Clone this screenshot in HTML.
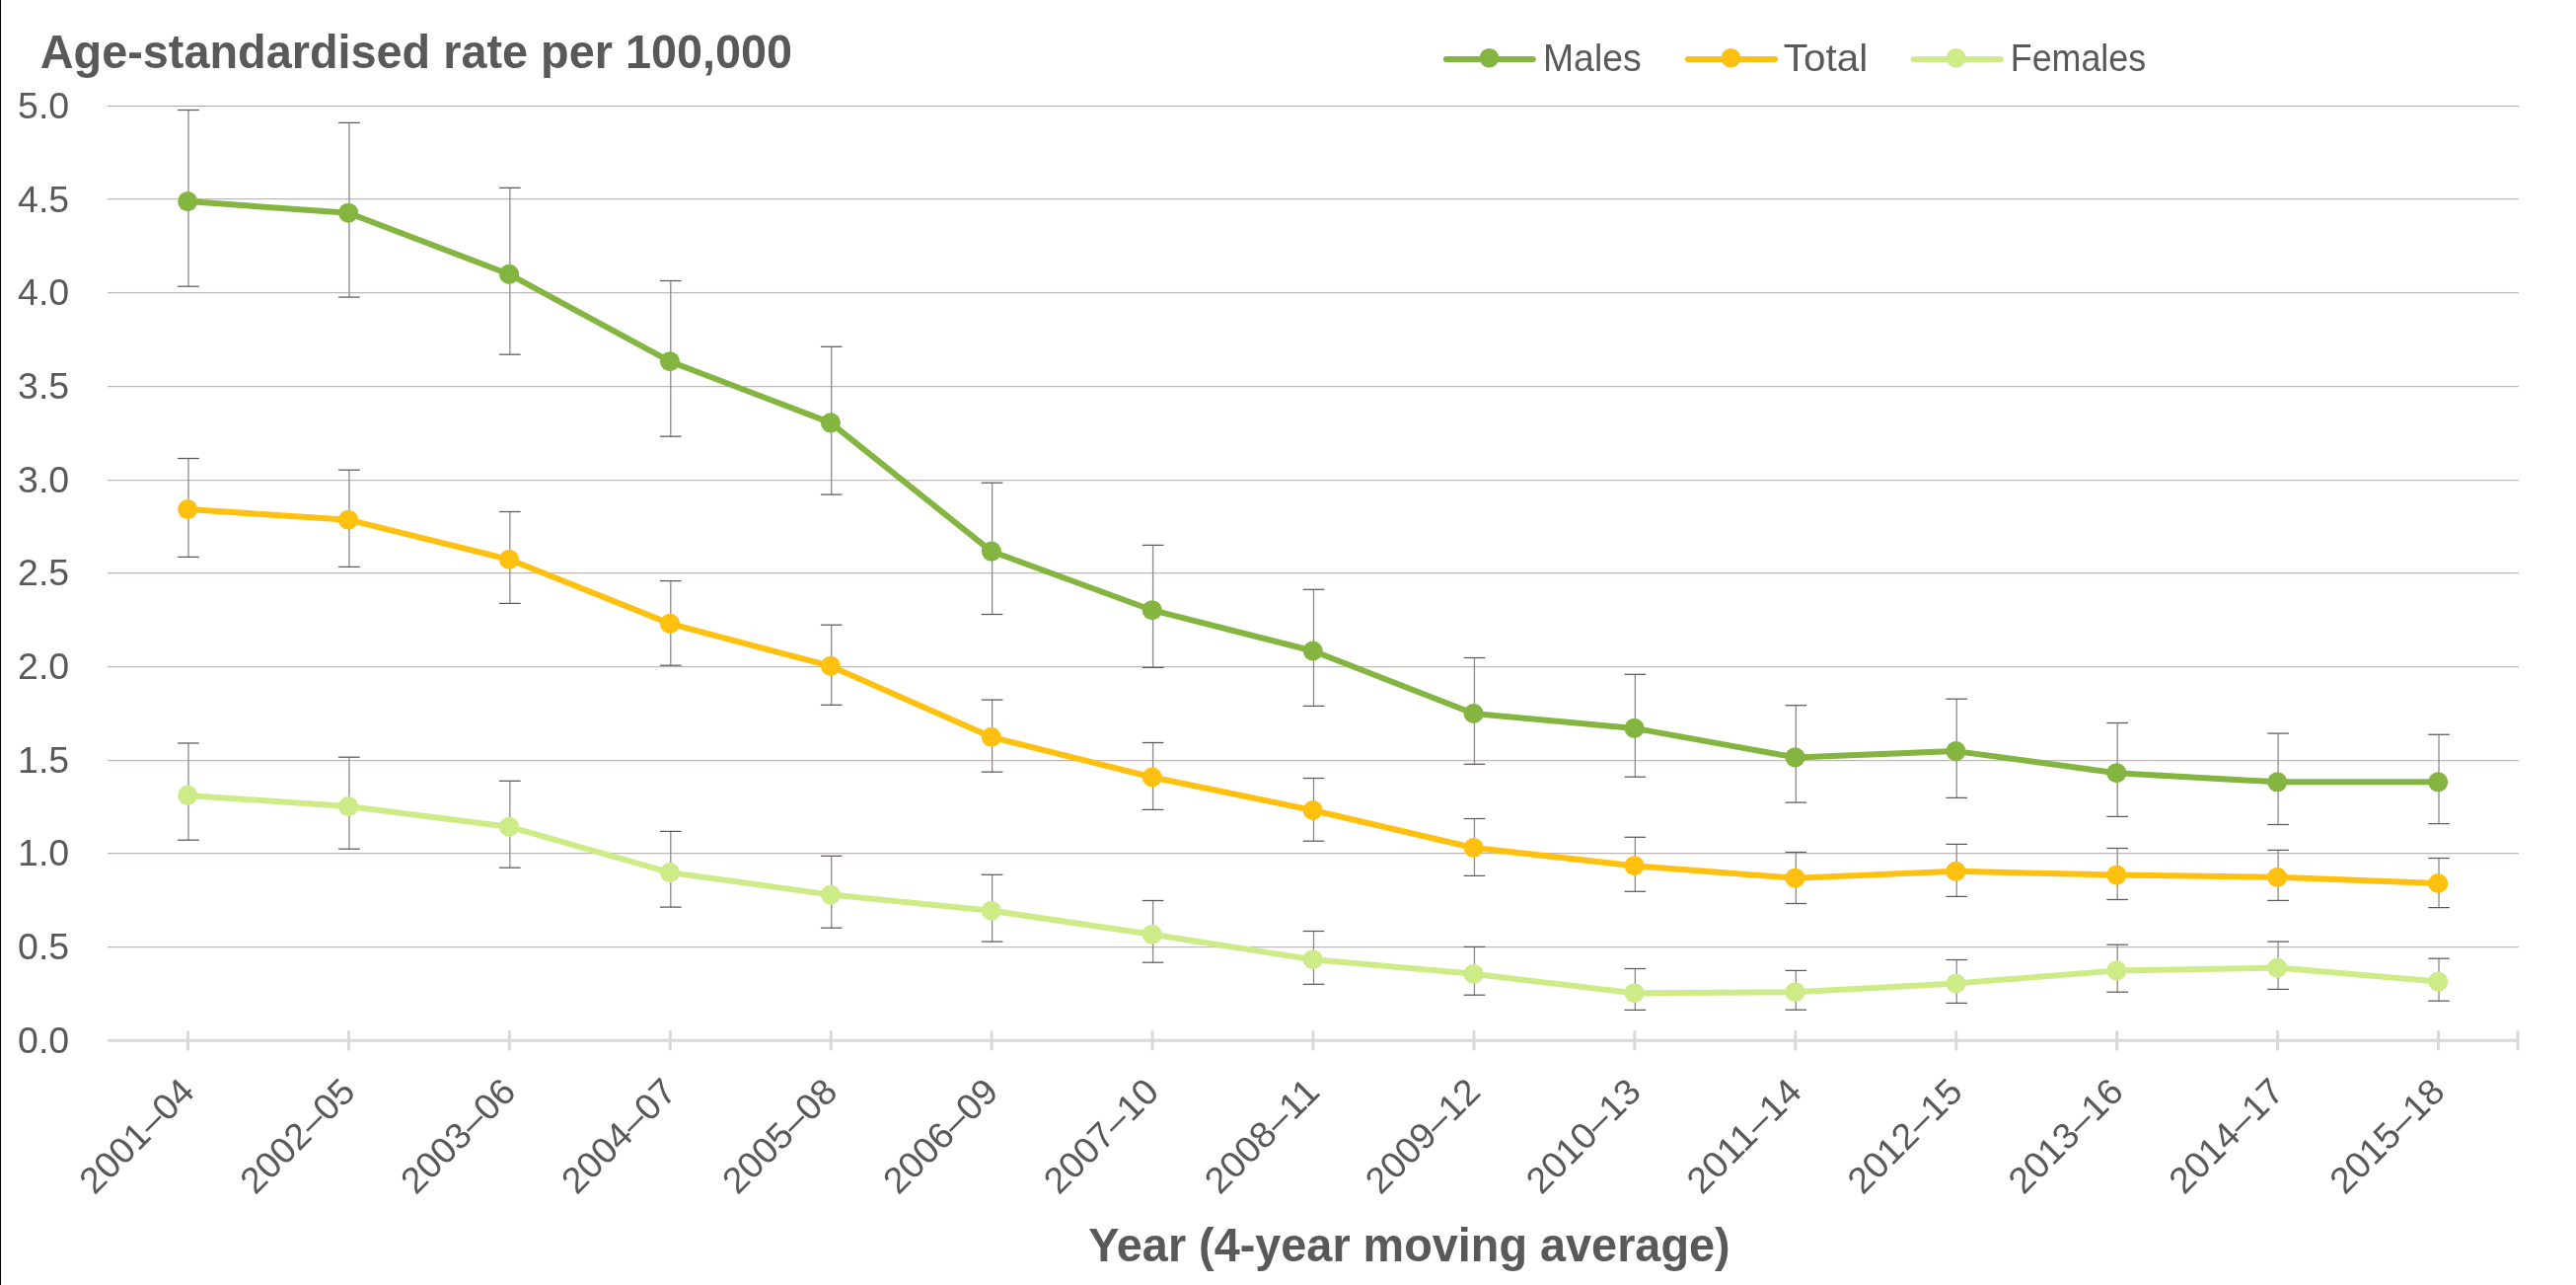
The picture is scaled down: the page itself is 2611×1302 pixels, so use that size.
<!DOCTYPE html><html><head><meta charset="utf-8"><style>
html,body{margin:0;padding:0;background:#fff;}body{width:2611px;height:1302px;overflow:hidden;}
svg{display:block;font-family:"Liberation Sans",sans-serif;will-change:transform;}
</style></head><body>
<svg width="2611" height="1302" viewBox="0 0 2611 1302">
<rect x="0" y="0" width="2611" height="1302" fill="#fff"/>
<rect x="0" y="0" width="1" height="1302" fill="#000"/>
<rect x="109" y="107" width="2444" height="1" fill="#b0a8a8"/>
<rect x="109" y="201" width="2444" height="1" fill="#bfb7b7"/>
<rect x="109" y="202" width="2444" height="1" fill="#f2efef"/>
<rect x="109" y="296" width="2444" height="1" fill="#bfb7b7"/>
<rect x="109" y="297" width="2444" height="1" fill="#f2efef"/>
<rect x="109" y="391" width="2444" height="1" fill="#bfb7b7"/>
<rect x="109" y="392" width="2444" height="1" fill="#f2efef"/>
<rect x="109" y="486" width="2444" height="1" fill="#bfb7b7"/>
<rect x="109" y="487" width="2444" height="1" fill="#f2efef"/>
<rect x="109" y="580" width="2444" height="1" fill="#bfb7b7"/>
<rect x="109" y="581" width="2444" height="1" fill="#f2efef"/>
<rect x="109" y="675" width="2444" height="1" fill="#bfb7b7"/>
<rect x="109" y="676" width="2444" height="1" fill="#f2efef"/>
<rect x="109" y="770" width="2444" height="1" fill="#bfb7b7"/>
<rect x="109" y="771" width="2444" height="1" fill="#f2efef"/>
<rect x="109" y="864" width="2444" height="1" fill="#bfb7b7"/>
<rect x="109" y="865" width="2444" height="1" fill="#f2efef"/>
<rect x="109" y="959" width="2444" height="1" fill="#bfb7b7"/>
<rect x="109" y="960" width="2444" height="1" fill="#f2efef"/>
<line x1="109" y1="1054.2" x2="2553" y2="1054.2" stroke="#d9d9d9" stroke-width="3"/>
<line x1="190.50" y1="1044.4" x2="190.50" y2="1064.4" stroke="#d9d9d9" stroke-width="3"/>
<line x1="353.43" y1="1044.4" x2="353.43" y2="1064.4" stroke="#d9d9d9" stroke-width="3"/>
<line x1="516.36" y1="1044.4" x2="516.36" y2="1064.4" stroke="#d9d9d9" stroke-width="3"/>
<line x1="679.29" y1="1044.4" x2="679.29" y2="1064.4" stroke="#d9d9d9" stroke-width="3"/>
<line x1="842.22" y1="1044.4" x2="842.22" y2="1064.4" stroke="#d9d9d9" stroke-width="3"/>
<line x1="1005.15" y1="1044.4" x2="1005.15" y2="1064.4" stroke="#d9d9d9" stroke-width="3"/>
<line x1="1168.08" y1="1044.4" x2="1168.08" y2="1064.4" stroke="#d9d9d9" stroke-width="3"/>
<line x1="1331.01" y1="1044.4" x2="1331.01" y2="1064.4" stroke="#d9d9d9" stroke-width="3"/>
<line x1="1493.94" y1="1044.4" x2="1493.94" y2="1064.4" stroke="#d9d9d9" stroke-width="3"/>
<line x1="1656.87" y1="1044.4" x2="1656.87" y2="1064.4" stroke="#d9d9d9" stroke-width="3"/>
<line x1="1819.80" y1="1044.4" x2="1819.80" y2="1064.4" stroke="#d9d9d9" stroke-width="3"/>
<line x1="1982.73" y1="1044.4" x2="1982.73" y2="1064.4" stroke="#d9d9d9" stroke-width="3"/>
<line x1="2145.66" y1="1044.4" x2="2145.66" y2="1064.4" stroke="#d9d9d9" stroke-width="3"/>
<line x1="2308.59" y1="1044.4" x2="2308.59" y2="1064.4" stroke="#d9d9d9" stroke-width="3"/>
<line x1="2471.52" y1="1044.4" x2="2471.52" y2="1064.4" stroke="#d9d9d9" stroke-width="3"/>
<line x1="2552" y1="1044.4" x2="2552" y2="1064.4" stroke="#d9d9d9" stroke-width="3"/>
<text x="70.20" y="119.90" font-size="37.5" fill="#595959" text-anchor="end">5.0</text>
<text x="70.20" y="214.58" font-size="37.5" fill="#595959" text-anchor="end">4.5</text>
<text x="70.20" y="309.26" font-size="37.5" fill="#595959" text-anchor="end">4.0</text>
<text x="70.20" y="403.94" font-size="37.5" fill="#595959" text-anchor="end">3.5</text>
<text x="70.20" y="498.62" font-size="37.5" fill="#595959" text-anchor="end">3.0</text>
<text x="70.20" y="593.30" font-size="37.5" fill="#595959" text-anchor="end">2.5</text>
<text x="70.20" y="687.98" font-size="37.5" fill="#595959" text-anchor="end">2.0</text>
<text x="70.20" y="782.66" font-size="37.5" fill="#595959" text-anchor="end">1.5</text>
<text x="70.20" y="877.34" font-size="37.5" fill="#595959" text-anchor="end">1.0</text>
<text x="70.20" y="972.02" font-size="37.5" fill="#595959" text-anchor="end">0.5</text>
<text x="70.20" y="1066.70" font-size="37.5" fill="#595959" text-anchor="end">0.0</text>
<text transform="translate(199.00,1108.20) rotate(-45)" font-size="37" fill="#595959" text-anchor="end" textLength="146" lengthAdjust="spacingAndGlyphs">2001–04</text>
<text transform="translate(361.93,1108.20) rotate(-45)" font-size="37" fill="#595959" text-anchor="end" textLength="146" lengthAdjust="spacingAndGlyphs">2002–05</text>
<text transform="translate(524.86,1108.20) rotate(-45)" font-size="37" fill="#595959" text-anchor="end" textLength="146" lengthAdjust="spacingAndGlyphs">2003–06</text>
<text transform="translate(687.79,1108.20) rotate(-45)" font-size="37" fill="#595959" text-anchor="end" textLength="146" lengthAdjust="spacingAndGlyphs">2004–07</text>
<text transform="translate(850.72,1108.20) rotate(-45)" font-size="37" fill="#595959" text-anchor="end" textLength="146" lengthAdjust="spacingAndGlyphs">2005–08</text>
<text transform="translate(1013.65,1108.20) rotate(-45)" font-size="37" fill="#595959" text-anchor="end" textLength="146" lengthAdjust="spacingAndGlyphs">2006–09</text>
<text transform="translate(1176.58,1108.20) rotate(-45)" font-size="37" fill="#595959" text-anchor="end" textLength="146" lengthAdjust="spacingAndGlyphs">2007–10</text>
<text transform="translate(1339.51,1108.20) rotate(-45)" font-size="37" fill="#595959" text-anchor="end" textLength="146" lengthAdjust="spacingAndGlyphs">2008–11</text>
<text transform="translate(1502.44,1108.20) rotate(-45)" font-size="37" fill="#595959" text-anchor="end" textLength="146" lengthAdjust="spacingAndGlyphs">2009–12</text>
<text transform="translate(1665.37,1108.20) rotate(-45)" font-size="37" fill="#595959" text-anchor="end" textLength="146" lengthAdjust="spacingAndGlyphs">2010–13</text>
<text transform="translate(1828.30,1108.20) rotate(-45)" font-size="37" fill="#595959" text-anchor="end" textLength="146" lengthAdjust="spacingAndGlyphs">2011–14</text>
<text transform="translate(1991.23,1108.20) rotate(-45)" font-size="37" fill="#595959" text-anchor="end" textLength="146" lengthAdjust="spacingAndGlyphs">2012–15</text>
<text transform="translate(2154.16,1108.20) rotate(-45)" font-size="37" fill="#595959" text-anchor="end" textLength="146" lengthAdjust="spacingAndGlyphs">2013–16</text>
<text transform="translate(2317.09,1108.20) rotate(-45)" font-size="37" fill="#595959" text-anchor="end" textLength="146" lengthAdjust="spacingAndGlyphs">2014–17</text>
<text transform="translate(2480.02,1108.20) rotate(-45)" font-size="37" fill="#595959" text-anchor="end" textLength="146" lengthAdjust="spacingAndGlyphs">2015–18</text>
<line x1="191.00" y1="111.50" x2="191.00" y2="290.20" stroke="#8a8a8a" stroke-width="1.3"/>
<line x1="180.20" y1="111.50" x2="201.80" y2="111.50" stroke="#595959" stroke-width="1.25"/>
<line x1="180.20" y1="290.20" x2="201.80" y2="290.20" stroke="#595959" stroke-width="1.25"/>
<line x1="353.93" y1="124.40" x2="353.93" y2="301.10" stroke="#8a8a8a" stroke-width="1.3"/>
<line x1="343.13" y1="124.40" x2="364.73" y2="124.40" stroke="#595959" stroke-width="1.25"/>
<line x1="343.13" y1="301.10" x2="364.73" y2="301.10" stroke="#595959" stroke-width="1.25"/>
<line x1="516.86" y1="190.30" x2="516.86" y2="359.20" stroke="#8a8a8a" stroke-width="1.3"/>
<line x1="506.06" y1="190.30" x2="527.66" y2="190.30" stroke="#595959" stroke-width="1.25"/>
<line x1="506.06" y1="359.20" x2="527.66" y2="359.20" stroke="#595959" stroke-width="1.25"/>
<line x1="679.79" y1="284.50" x2="679.79" y2="442.20" stroke="#8a8a8a" stroke-width="1.3"/>
<line x1="668.99" y1="284.50" x2="690.59" y2="284.50" stroke="#595959" stroke-width="1.25"/>
<line x1="668.99" y1="442.20" x2="690.59" y2="442.20" stroke="#595959" stroke-width="1.25"/>
<line x1="842.72" y1="351.30" x2="842.72" y2="501.10" stroke="#8a8a8a" stroke-width="1.3"/>
<line x1="831.92" y1="351.30" x2="853.52" y2="351.30" stroke="#595959" stroke-width="1.25"/>
<line x1="831.92" y1="501.10" x2="853.52" y2="501.10" stroke="#595959" stroke-width="1.25"/>
<line x1="1005.65" y1="489.20" x2="1005.65" y2="622.50" stroke="#8a8a8a" stroke-width="1.3"/>
<line x1="994.85" y1="489.20" x2="1016.45" y2="489.20" stroke="#595959" stroke-width="1.25"/>
<line x1="994.85" y1="622.50" x2="1016.45" y2="622.50" stroke="#595959" stroke-width="1.25"/>
<line x1="1168.58" y1="552.40" x2="1168.58" y2="676.40" stroke="#8a8a8a" stroke-width="1.3"/>
<line x1="1157.78" y1="552.40" x2="1179.38" y2="552.40" stroke="#595959" stroke-width="1.25"/>
<line x1="1157.78" y1="676.40" x2="1179.38" y2="676.40" stroke="#595959" stroke-width="1.25"/>
<line x1="1331.51" y1="597.30" x2="1331.51" y2="715.40" stroke="#8a8a8a" stroke-width="1.3"/>
<line x1="1320.71" y1="597.30" x2="1342.31" y2="597.30" stroke="#595959" stroke-width="1.25"/>
<line x1="1320.71" y1="715.40" x2="1342.31" y2="715.40" stroke="#595959" stroke-width="1.25"/>
<line x1="1494.44" y1="666.50" x2="1494.44" y2="774.30" stroke="#8a8a8a" stroke-width="1.3"/>
<line x1="1483.64" y1="666.50" x2="1505.24" y2="666.50" stroke="#595959" stroke-width="1.25"/>
<line x1="1483.64" y1="774.30" x2="1505.24" y2="774.30" stroke="#595959" stroke-width="1.25"/>
<line x1="1657.37" y1="683.30" x2="1657.37" y2="787.20" stroke="#8a8a8a" stroke-width="1.3"/>
<line x1="1646.57" y1="683.30" x2="1668.17" y2="683.30" stroke="#595959" stroke-width="1.25"/>
<line x1="1646.57" y1="787.20" x2="1668.17" y2="787.20" stroke="#595959" stroke-width="1.25"/>
<line x1="1820.30" y1="714.70" x2="1820.30" y2="813.10" stroke="#8a8a8a" stroke-width="1.3"/>
<line x1="1809.50" y1="714.70" x2="1831.10" y2="714.70" stroke="#595959" stroke-width="1.25"/>
<line x1="1809.50" y1="813.10" x2="1831.10" y2="813.10" stroke="#595959" stroke-width="1.25"/>
<line x1="1983.23" y1="708.20" x2="1983.23" y2="808.40" stroke="#8a8a8a" stroke-width="1.3"/>
<line x1="1972.43" y1="708.20" x2="1994.03" y2="708.20" stroke="#595959" stroke-width="1.25"/>
<line x1="1972.43" y1="808.40" x2="1994.03" y2="808.40" stroke="#595959" stroke-width="1.25"/>
<line x1="2146.16" y1="732.50" x2="2146.16" y2="827.40" stroke="#8a8a8a" stroke-width="1.3"/>
<line x1="2135.36" y1="732.50" x2="2156.96" y2="732.50" stroke="#595959" stroke-width="1.25"/>
<line x1="2135.36" y1="827.40" x2="2156.96" y2="827.40" stroke="#595959" stroke-width="1.25"/>
<line x1="2309.09" y1="743.10" x2="2309.09" y2="835.50" stroke="#8a8a8a" stroke-width="1.3"/>
<line x1="2298.29" y1="743.10" x2="2319.89" y2="743.10" stroke="#595959" stroke-width="1.25"/>
<line x1="2298.29" y1="835.50" x2="2319.89" y2="835.50" stroke="#595959" stroke-width="1.25"/>
<line x1="2472.02" y1="744.30" x2="2472.02" y2="834.60" stroke="#8a8a8a" stroke-width="1.3"/>
<line x1="2461.22" y1="744.30" x2="2482.82" y2="744.30" stroke="#595959" stroke-width="1.25"/>
<line x1="2461.22" y1="834.60" x2="2482.82" y2="834.60" stroke="#595959" stroke-width="1.25"/>
<line x1="191.00" y1="464.50" x2="191.00" y2="564.40" stroke="#8a8a8a" stroke-width="1.3"/>
<line x1="180.20" y1="464.50" x2="201.80" y2="464.50" stroke="#595959" stroke-width="1.25"/>
<line x1="180.20" y1="564.40" x2="201.80" y2="564.40" stroke="#595959" stroke-width="1.25"/>
<line x1="353.93" y1="476.20" x2="353.93" y2="574.40" stroke="#8a8a8a" stroke-width="1.3"/>
<line x1="343.13" y1="476.20" x2="364.73" y2="476.20" stroke="#595959" stroke-width="1.25"/>
<line x1="343.13" y1="574.40" x2="364.73" y2="574.40" stroke="#595959" stroke-width="1.25"/>
<line x1="516.86" y1="518.50" x2="516.86" y2="611.40" stroke="#8a8a8a" stroke-width="1.3"/>
<line x1="506.06" y1="518.50" x2="527.66" y2="518.50" stroke="#595959" stroke-width="1.25"/>
<line x1="506.06" y1="611.40" x2="527.66" y2="611.40" stroke="#595959" stroke-width="1.25"/>
<line x1="679.79" y1="588.60" x2="679.79" y2="674.20" stroke="#8a8a8a" stroke-width="1.3"/>
<line x1="668.99" y1="588.60" x2="690.59" y2="588.60" stroke="#595959" stroke-width="1.25"/>
<line x1="668.99" y1="674.20" x2="690.59" y2="674.20" stroke="#595959" stroke-width="1.25"/>
<line x1="842.72" y1="633.20" x2="842.72" y2="714.30" stroke="#8a8a8a" stroke-width="1.3"/>
<line x1="831.92" y1="633.20" x2="853.52" y2="633.20" stroke="#595959" stroke-width="1.25"/>
<line x1="831.92" y1="714.30" x2="853.52" y2="714.30" stroke="#595959" stroke-width="1.25"/>
<line x1="1005.65" y1="709.10" x2="1005.65" y2="782.20" stroke="#8a8a8a" stroke-width="1.3"/>
<line x1="994.85" y1="709.10" x2="1016.45" y2="709.10" stroke="#595959" stroke-width="1.25"/>
<line x1="994.85" y1="782.20" x2="1016.45" y2="782.20" stroke="#595959" stroke-width="1.25"/>
<line x1="1168.58" y1="752.50" x2="1168.58" y2="820.40" stroke="#8a8a8a" stroke-width="1.3"/>
<line x1="1157.78" y1="752.50" x2="1179.38" y2="752.50" stroke="#595959" stroke-width="1.25"/>
<line x1="1157.78" y1="820.40" x2="1179.38" y2="820.40" stroke="#595959" stroke-width="1.25"/>
<line x1="1331.51" y1="788.50" x2="1331.51" y2="852.20" stroke="#8a8a8a" stroke-width="1.3"/>
<line x1="1320.71" y1="788.50" x2="1342.31" y2="788.50" stroke="#595959" stroke-width="1.25"/>
<line x1="1320.71" y1="852.20" x2="1342.31" y2="852.20" stroke="#595959" stroke-width="1.25"/>
<line x1="1494.44" y1="829.50" x2="1494.44" y2="887.40" stroke="#8a8a8a" stroke-width="1.3"/>
<line x1="1483.64" y1="829.50" x2="1505.24" y2="829.50" stroke="#595959" stroke-width="1.25"/>
<line x1="1483.64" y1="887.40" x2="1505.24" y2="887.40" stroke="#595959" stroke-width="1.25"/>
<line x1="1657.37" y1="848.30" x2="1657.37" y2="903.30" stroke="#8a8a8a" stroke-width="1.3"/>
<line x1="1646.57" y1="848.30" x2="1668.17" y2="848.30" stroke="#595959" stroke-width="1.25"/>
<line x1="1646.57" y1="903.30" x2="1668.17" y2="903.30" stroke="#595959" stroke-width="1.25"/>
<line x1="1820.30" y1="863.50" x2="1820.30" y2="915.50" stroke="#8a8a8a" stroke-width="1.3"/>
<line x1="1809.50" y1="863.50" x2="1831.10" y2="863.50" stroke="#595959" stroke-width="1.25"/>
<line x1="1809.50" y1="915.50" x2="1831.10" y2="915.50" stroke="#595959" stroke-width="1.25"/>
<line x1="1983.23" y1="855.40" x2="1983.23" y2="908.40" stroke="#8a8a8a" stroke-width="1.3"/>
<line x1="1972.43" y1="855.40" x2="1994.03" y2="855.40" stroke="#595959" stroke-width="1.25"/>
<line x1="1972.43" y1="908.40" x2="1994.03" y2="908.40" stroke="#595959" stroke-width="1.25"/>
<line x1="2146.16" y1="859.50" x2="2146.16" y2="911.50" stroke="#8a8a8a" stroke-width="1.3"/>
<line x1="2135.36" y1="859.50" x2="2156.96" y2="859.50" stroke="#595959" stroke-width="1.25"/>
<line x1="2135.36" y1="911.50" x2="2156.96" y2="911.50" stroke="#595959" stroke-width="1.25"/>
<line x1="2309.09" y1="861.40" x2="2309.09" y2="912.40" stroke="#8a8a8a" stroke-width="1.3"/>
<line x1="2298.29" y1="861.40" x2="2319.89" y2="861.40" stroke="#595959" stroke-width="1.25"/>
<line x1="2298.29" y1="912.40" x2="2319.89" y2="912.40" stroke="#595959" stroke-width="1.25"/>
<line x1="2472.02" y1="869.50" x2="2472.02" y2="919.60" stroke="#8a8a8a" stroke-width="1.3"/>
<line x1="2461.22" y1="869.50" x2="2482.82" y2="869.50" stroke="#595959" stroke-width="1.25"/>
<line x1="2461.22" y1="919.60" x2="2482.82" y2="919.60" stroke="#595959" stroke-width="1.25"/>
<line x1="191.00" y1="753.00" x2="191.00" y2="851.20" stroke="#8a8a8a" stroke-width="1.3"/>
<line x1="180.20" y1="753.00" x2="201.80" y2="753.00" stroke="#595959" stroke-width="1.25"/>
<line x1="180.20" y1="851.20" x2="201.80" y2="851.20" stroke="#595959" stroke-width="1.25"/>
<line x1="353.93" y1="767.20" x2="353.93" y2="860.20" stroke="#8a8a8a" stroke-width="1.3"/>
<line x1="343.13" y1="767.20" x2="364.73" y2="767.20" stroke="#595959" stroke-width="1.25"/>
<line x1="343.13" y1="860.20" x2="364.73" y2="860.20" stroke="#595959" stroke-width="1.25"/>
<line x1="516.86" y1="791.30" x2="516.86" y2="879.20" stroke="#8a8a8a" stroke-width="1.3"/>
<line x1="506.06" y1="791.30" x2="527.66" y2="791.30" stroke="#595959" stroke-width="1.25"/>
<line x1="506.06" y1="879.20" x2="527.66" y2="879.20" stroke="#595959" stroke-width="1.25"/>
<line x1="679.79" y1="842.40" x2="679.79" y2="919.10" stroke="#8a8a8a" stroke-width="1.3"/>
<line x1="668.99" y1="842.40" x2="690.59" y2="842.40" stroke="#595959" stroke-width="1.25"/>
<line x1="668.99" y1="919.10" x2="690.59" y2="919.10" stroke="#595959" stroke-width="1.25"/>
<line x1="842.72" y1="867.30" x2="842.72" y2="940.20" stroke="#8a8a8a" stroke-width="1.3"/>
<line x1="831.92" y1="867.30" x2="853.52" y2="867.30" stroke="#595959" stroke-width="1.25"/>
<line x1="831.92" y1="940.20" x2="853.52" y2="940.20" stroke="#595959" stroke-width="1.25"/>
<line x1="1005.65" y1="886.30" x2="1005.65" y2="954.10" stroke="#8a8a8a" stroke-width="1.3"/>
<line x1="994.85" y1="886.30" x2="1016.45" y2="886.30" stroke="#595959" stroke-width="1.25"/>
<line x1="994.85" y1="954.10" x2="1016.45" y2="954.10" stroke="#595959" stroke-width="1.25"/>
<line x1="1168.58" y1="912.50" x2="1168.58" y2="975.20" stroke="#8a8a8a" stroke-width="1.3"/>
<line x1="1157.78" y1="912.50" x2="1179.38" y2="912.50" stroke="#595959" stroke-width="1.25"/>
<line x1="1157.78" y1="975.20" x2="1179.38" y2="975.20" stroke="#595959" stroke-width="1.25"/>
<line x1="1331.51" y1="943.50" x2="1331.51" y2="997.30" stroke="#8a8a8a" stroke-width="1.3"/>
<line x1="1320.71" y1="943.50" x2="1342.31" y2="943.50" stroke="#595959" stroke-width="1.25"/>
<line x1="1320.71" y1="997.30" x2="1342.31" y2="997.30" stroke="#595959" stroke-width="1.25"/>
<line x1="1494.44" y1="959.40" x2="1494.44" y2="1008.20" stroke="#8a8a8a" stroke-width="1.3"/>
<line x1="1483.64" y1="959.40" x2="1505.24" y2="959.40" stroke="#595959" stroke-width="1.25"/>
<line x1="1483.64" y1="1008.20" x2="1505.24" y2="1008.20" stroke="#595959" stroke-width="1.25"/>
<line x1="1657.37" y1="981.50" x2="1657.37" y2="1023.40" stroke="#8a8a8a" stroke-width="1.3"/>
<line x1="1646.57" y1="981.50" x2="1668.17" y2="981.50" stroke="#595959" stroke-width="1.25"/>
<line x1="1646.57" y1="1023.40" x2="1668.17" y2="1023.40" stroke="#595959" stroke-width="1.25"/>
<line x1="1820.30" y1="983.40" x2="1820.30" y2="1023.20" stroke="#8a8a8a" stroke-width="1.3"/>
<line x1="1809.50" y1="983.40" x2="1831.10" y2="983.40" stroke="#595959" stroke-width="1.25"/>
<line x1="1809.50" y1="1023.20" x2="1831.10" y2="1023.20" stroke="#595959" stroke-width="1.25"/>
<line x1="1983.23" y1="972.50" x2="1983.23" y2="1016.40" stroke="#8a8a8a" stroke-width="1.3"/>
<line x1="1972.43" y1="972.50" x2="1994.03" y2="972.50" stroke="#595959" stroke-width="1.25"/>
<line x1="1972.43" y1="1016.40" x2="1994.03" y2="1016.40" stroke="#595959" stroke-width="1.25"/>
<line x1="2146.16" y1="957.20" x2="2146.16" y2="1005.20" stroke="#8a8a8a" stroke-width="1.3"/>
<line x1="2135.36" y1="957.20" x2="2156.96" y2="957.20" stroke="#595959" stroke-width="1.25"/>
<line x1="2135.36" y1="1005.20" x2="2156.96" y2="1005.20" stroke="#595959" stroke-width="1.25"/>
<line x1="2309.09" y1="954.10" x2="2309.09" y2="1002.40" stroke="#8a8a8a" stroke-width="1.3"/>
<line x1="2298.29" y1="954.10" x2="2319.89" y2="954.10" stroke="#595959" stroke-width="1.25"/>
<line x1="2298.29" y1="1002.40" x2="2319.89" y2="1002.40" stroke="#595959" stroke-width="1.25"/>
<line x1="2472.02" y1="971.20" x2="2472.02" y2="1014.20" stroke="#8a8a8a" stroke-width="1.3"/>
<line x1="2461.22" y1="971.20" x2="2482.82" y2="971.20" stroke="#595959" stroke-width="1.25"/>
<line x1="2461.22" y1="1014.20" x2="2482.82" y2="1014.20" stroke="#595959" stroke-width="1.25"/>
<polyline points="190.20,805.90 353.13,817.10 516.06,837.70 678.99,884.10 841.92,906.60 1004.85,922.70 1167.78,946.80 1330.71,972.20 1493.64,986.80 1656.57,1006.20 1819.50,1005.20 1982.43,996.50 2145.36,983.40 2308.29,980.60 2471.22,994.60" fill="none" stroke="#cdec88" stroke-width="6" stroke-linejoin="round" stroke-linecap="round"/>
<circle cx="190.20" cy="805.90" r="10.05" fill="#cdec88"/>
<circle cx="353.13" cy="817.10" r="10.05" fill="#cdec88"/>
<circle cx="516.06" cy="837.70" r="10.05" fill="#cdec88"/>
<circle cx="678.99" cy="884.10" r="10.05" fill="#cdec88"/>
<circle cx="841.92" cy="906.60" r="10.05" fill="#cdec88"/>
<circle cx="1004.85" cy="922.70" r="10.05" fill="#cdec88"/>
<circle cx="1167.78" cy="946.80" r="10.05" fill="#cdec88"/>
<circle cx="1330.71" cy="972.20" r="10.05" fill="#cdec88"/>
<circle cx="1493.64" cy="986.80" r="10.05" fill="#cdec88"/>
<circle cx="1656.57" cy="1006.20" r="10.05" fill="#cdec88"/>
<circle cx="1819.50" cy="1005.20" r="10.05" fill="#cdec88"/>
<circle cx="1982.43" cy="996.50" r="10.05" fill="#cdec88"/>
<circle cx="2145.36" cy="983.40" r="10.05" fill="#cdec88"/>
<circle cx="2308.29" cy="980.60" r="10.05" fill="#cdec88"/>
<circle cx="2471.22" cy="994.60" r="10.05" fill="#cdec88"/>
<polyline points="190.20,516.10 353.13,526.70 516.06,566.80 678.99,631.90 841.92,674.90 1004.85,746.80 1167.78,787.50 1330.71,821.00 1493.64,859.00 1656.57,877.20 1819.50,889.70 1982.43,882.80 2145.36,886.60 2308.29,888.80 2471.22,895.00" fill="none" stroke="#ffc00f" stroke-width="6" stroke-linejoin="round" stroke-linecap="round"/>
<circle cx="190.20" cy="516.10" r="10.05" fill="#ffc00f"/>
<circle cx="353.13" cy="526.70" r="10.05" fill="#ffc00f"/>
<circle cx="516.06" cy="566.80" r="10.05" fill="#ffc00f"/>
<circle cx="678.99" cy="631.90" r="10.05" fill="#ffc00f"/>
<circle cx="841.92" cy="674.90" r="10.05" fill="#ffc00f"/>
<circle cx="1004.85" cy="746.80" r="10.05" fill="#ffc00f"/>
<circle cx="1167.78" cy="787.50" r="10.05" fill="#ffc00f"/>
<circle cx="1330.71" cy="821.00" r="10.05" fill="#ffc00f"/>
<circle cx="1493.64" cy="859.00" r="10.05" fill="#ffc00f"/>
<circle cx="1656.57" cy="877.20" r="10.05" fill="#ffc00f"/>
<circle cx="1819.50" cy="889.70" r="10.05" fill="#ffc00f"/>
<circle cx="1982.43" cy="882.80" r="10.05" fill="#ffc00f"/>
<circle cx="2145.36" cy="886.60" r="10.05" fill="#ffc00f"/>
<circle cx="2308.29" cy="888.80" r="10.05" fill="#ffc00f"/>
<circle cx="2471.22" cy="895.00" r="10.05" fill="#ffc00f"/>
<polyline points="190.20,204.10 353.13,215.70 516.06,277.90 678.99,366.20 841.92,428.40 1004.85,558.60 1167.78,618.20 1330.71,659.50 1493.64,723.00 1656.57,737.90 1819.50,767.40 1982.43,761.10 2145.36,783.20 2308.29,792.30 2471.22,792.30" fill="none" stroke="#83b540" stroke-width="6" stroke-linejoin="round" stroke-linecap="round"/>
<circle cx="190.20" cy="204.10" r="10.05" fill="#83b540"/>
<circle cx="353.13" cy="215.70" r="10.05" fill="#83b540"/>
<circle cx="516.06" cy="277.90" r="10.05" fill="#83b540"/>
<circle cx="678.99" cy="366.20" r="10.05" fill="#83b540"/>
<circle cx="841.92" cy="428.40" r="10.05" fill="#83b540"/>
<circle cx="1004.85" cy="558.60" r="10.05" fill="#83b540"/>
<circle cx="1167.78" cy="618.20" r="10.05" fill="#83b540"/>
<circle cx="1330.71" cy="659.50" r="10.05" fill="#83b540"/>
<circle cx="1493.64" cy="723.00" r="10.05" fill="#83b540"/>
<circle cx="1656.57" cy="737.90" r="10.05" fill="#83b540"/>
<circle cx="1819.50" cy="767.40" r="10.05" fill="#83b540"/>
<circle cx="1982.43" cy="761.10" r="10.05" fill="#83b540"/>
<circle cx="2145.36" cy="783.20" r="10.05" fill="#83b540"/>
<circle cx="2308.29" cy="792.30" r="10.05" fill="#83b540"/>
<circle cx="2471.22" cy="792.30" r="10.05" fill="#83b540"/>
<text x="40.80" y="68.80" font-size="47.50" font-weight="bold" fill="#595959" textLength="762.31" lengthAdjust="spacingAndGlyphs">Age-standardised rate per 100,000</text>
<line x1="1465.9" y1="59.9" x2="1553.8" y2="59.9" stroke="#83b540" stroke-width="6" stroke-linecap="round"/>
<circle cx="1509.5" cy="58.8" r="9.8" fill="#83b540"/>
<text x="1564.00" y="71.80" font-size="38.50" fill="#595959" textLength="99.62" lengthAdjust="spacingAndGlyphs">Males</text>
<line x1="1711.0" y1="59.9" x2="1799.0" y2="59.9" stroke="#ffc00f" stroke-width="6" stroke-linecap="round"/>
<circle cx="1754.4" cy="58.8" r="9.8" fill="#ffc00f"/>
<text x="1807.80" y="71.80" font-size="38.50" fill="#595959" textLength="85.31" lengthAdjust="spacingAndGlyphs">Total</text>
<line x1="1939.5" y1="59.9" x2="2027.9" y2="59.9" stroke="#cdec88" stroke-width="6" stroke-linecap="round"/>
<circle cx="1982.6" cy="58.8" r="9.8" fill="#cdec88"/>
<text x="2037.80" y="71.80" font-size="38.50" fill="#595959" textLength="137.37" lengthAdjust="spacingAndGlyphs">Females</text>
<text x="1103.20" y="1278.40" font-size="47.30" font-weight="bold" fill="#595959" textLength="650.42" lengthAdjust="spacingAndGlyphs">Year (4-year moving average)</text>
</svg></body></html>
